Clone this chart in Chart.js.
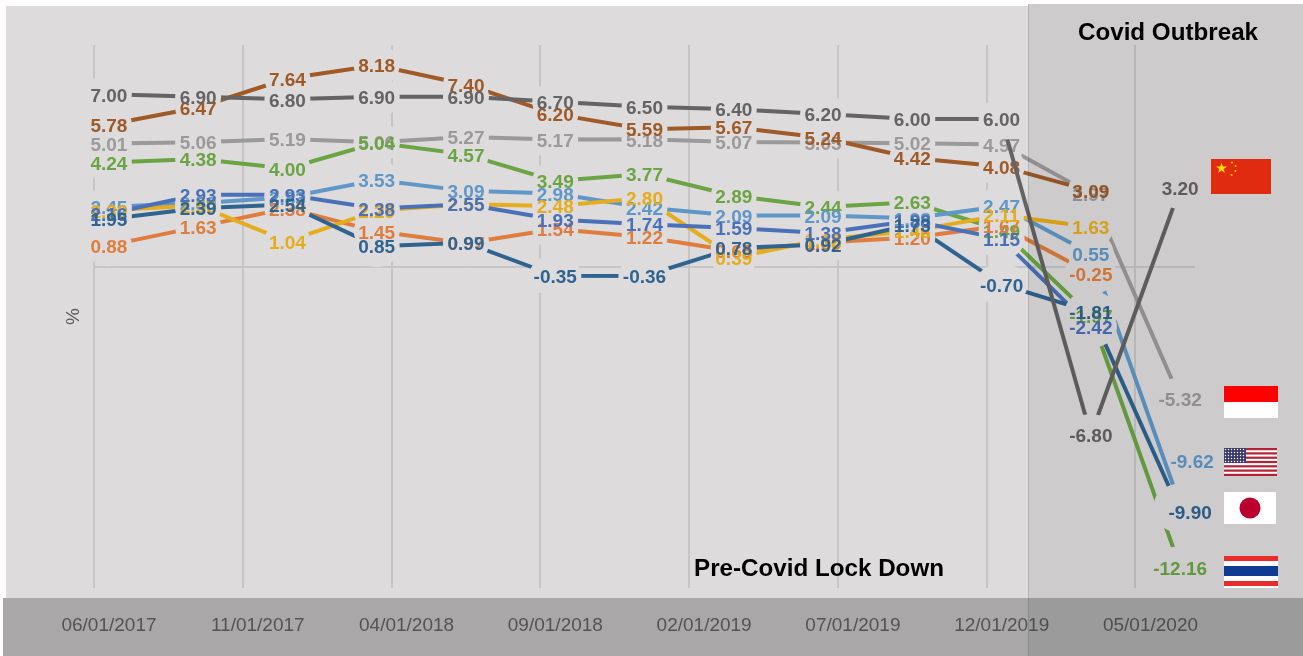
<!DOCTYPE html>
<html>
<head>
<meta charset="utf-8">
<title>Covid Outbreak</title>
<script src="https://cdn.jsdelivr.net/npm/chart.js@4/dist/chart.umd.min.js"></script>
<style>
  html, body { margin: 0; padding: 0; background: #fff; }
  body { position: relative; width: 1303px; height: 656px; overflow: hidden; font-family: 'Liberation Sans', Arial, sans-serif; }
  .box { position: absolute; }
  #plate { left: 6px; top: 6px; right: 0; bottom: 0; background: #dddbdc; }
  #plateTop { left: 1028px; top: 4px; right: 0; height: 2px; background: #dddbdc; }
  #plateBand { left: 3px; top: 598px; width: 3px; bottom: 0; background: #dddbdc; }
  canvas { position: absolute; left: 0; top: 0; }
  #outbreak { left: 1028px; top: 4px; right: 0; bottom: 0; background: rgba(0, 0, 0, 0.072); border-left: 1px solid rgba(0, 0, 0, 0.12); }
  #band { left: 3px; top: 598px; right: 0; bottom: 0; background: rgba(0, 0, 0, 0.235); }
  .note { position: absolute; font-weight: bold; font-size: 24.2px; color: #000; white-space: nowrap; transform: translate(-50%, -50%); }
  svg { position: absolute; display: block; }
</style>
</head>
<body>
<div class="box" id="plate"></div>
<div class="box" id="plateTop"></div>
<div class="box" id="plateBand"></div>
<canvas id="myChart" width="1303" height="656"></canvas>
<div class="box" id="outbreak"></div>
<div class="box" id="band"></div>
<div class="note" style="left:1168px;top:32px">Covid Outbreak</div>
<div class="note" style="left:819px;top:568px">Pre-Covid Lock Down</div>

<svg style="left:1211px;top:159px" width="60" height="35" viewBox="0 0 60 35">
  <rect width="60" height="35" fill="#e02b10" />
  <polygon points="10.5,3.5 11.8,7.4 16,7.5 12.7,10 13.9,14 10.5,11.6 7.1,14 8.3,10 5,7.5 9.2,7.4" fill="#ffde00" />
  <circle cx="21" cy="3.5" r="1" fill="#ffde00" />
  <circle cx="24.5" cy="7" r="1" fill="#ffde00" />
  <circle cx="24.5" cy="12" r="1" fill="#ffde00" />
  <circle cx="20.5" cy="16" r="1" fill="#ffde00" />
</svg>
<svg style="left:1224px;top:386px" width="54" height="32" viewBox="0 0 54 32">
  <rect width="54" height="16" fill="#ff0000" />
  <rect y="16" width="54" height="16" fill="#fff" />
</svg>
<svg style="left:1224px;top:448px" width="53" height="28" viewBox="0 0 53 28">
  <defs>
    <pattern id="stars" width="3" height="3" patternUnits="userSpaceOnUse">
      <circle cx="1.5" cy="1.5" r="0.7" fill="#fff" />
    </pattern>
  </defs>
  <rect width="53" height="28" fill="#fff" />
  <rect y="0" width="53" height="2.2" fill="#b22234" />
  <rect y="4.3" width="53" height="2.2" fill="#b22234" />
  <rect y="8.6" width="53" height="2.2" fill="#b22234" />
  <rect y="12.9" width="53" height="2.2" fill="#b22234" />
  <rect y="17.2" width="53" height="2.2" fill="#b22234" />
  <rect y="21.5" width="53" height="2.2" fill="#b22234" />
  <rect y="25.8" width="53" height="2.2" fill="#b22234" />
  <rect width="22" height="15" fill="#3c3b6e" />
  <rect width="22" height="15" fill="url(#stars)" />
</svg>
<svg style="left:1224px;top:492px" width="52" height="32" viewBox="0 0 52 32">
  <rect width="52" height="32" fill="#fff" />
  <circle cx="26" cy="16" r="10.5" fill="#bc002d" />
</svg>
<svg style="left:1224px;top:556px" width="54" height="32" viewBox="0 0 54 32">
  <rect width="54" height="32" fill="#fff" />
  <rect width="54" height="5" fill="#ea2b2b" />
  <rect y="10" width="54" height="10" fill="#0f3b92" />
  <rect y="25" width="54" height="5" fill="#ea2b2b" />
</svg>

<script>
const categories = ['06/01/2017', '09/01/2017', '12/01/2017', '03/01/2018', '06/01/2018', '09/01/2018', '12/01/2018', '03/01/2019', '06/01/2019', '09/01/2019', '12/01/2019', '03/01/2020', '06/01/2020']
const tickLabels = ['06/01/2017', '11/01/2017', '04/01/2018', '09/01/2018', '02/01/2019', '07/01/2019', '12/01/2019', '05/01/2020']

const china = [7.0, 6.9, 6.8, 6.9, 6.9, 6.7, 6.5, 6.4, 6.2, 6.0, 6.0, -6.8, 3.2]
const japan = [1.95, 2.39, 2.54, 0.85, 0.99, -0.35, -0.36, 0.78, 0.92, 1.73, -0.7, -1.81, -9.9]
const brown = [5.78, 6.47, 7.64, 8.18, 7.4, 6.2, 5.59, 5.67, 5.24, 4.42, 4.08, 3.09, null]
const blue = [2.16, 2.93, 2.93, 2.38, 2.55, 1.93, 1.74, 1.59, 1.38, 1.88, 1.15, -2.42, null]
const yellow = [2.3, 2.5, 1.04, 2.29, 2.55, 2.48, 2.8, 0.39, 1.12, 1.46, 2.11, 1.63, null]
const orange = [0.88, 1.63, 2.38, 1.45, 0.97, 1.54, 1.22, 0.65, 1.0, 1.2, 1.67, -0.25, null]
const usa = [2.45, 2.59, 2.83, 3.53, 3.09, 2.98, 2.42, 2.09, 2.09, 1.98, 2.47, 0.55, -9.62]
const thailand = [4.24, 4.38, 4.0, 5.04, 4.57, 3.49, 3.77, 2.89, 2.44, 2.63, 1.49, -1.97, -12.16]
const indonesia = [5.01, 5.06, 5.19, 5.06, 5.27, 5.17, 5.18, 5.07, 5.05, 5.02, 4.97, 2.97, -5.32]

const PLATE = '#dddbdc'
const LABEL_FONT = 'bold 19px "Liberation Sans", Arial, sans-serif'
// the last two labels were dragged off their points, the halo stays behind
const movedLabels = { '-9.62': [12, -44], '-9.90': [10, 0] }

function monthIndex(label) {
  const [mm, , yyyy] = label.split('/').map(Number)
  return (yyyy - 2017) * 12 + mm - 6
}

function series(name, values, color) {
  return {
    label: name,
    data: values.map((y, i) => ({ x: monthIndex(categories[i]), y })),
    borderColor: color,
    borderWidth: 4,
    pointRadius: 0,
    tension: 0,
    fill: false,
    spanGaps: false,
  }
}

// dataset 0 is painted last by chart.js, the china line sits above the label halos of the others
const datasets = [
  series('China', china, '#646464'),
  series('Japan', japan, '#2f6491'),
  series('Brown', brown, '#9f5a28'),
  series('Blue', blue, '#4a70b8'),
  series('Yellow', yellow, '#e5ad1c'),
  series('Orange', orange, '#df7d3e'),
  series('USA', usa, '#5f97c8'),
  series('Thailand', thailand, '#6aa443'),
  series('Indonesia', indonesia, '#9a9a9a'),
]

function labelsOf(chart, index) {
  const { ctx } = chart
  const meta = chart.getDatasetMeta(index)
  const out = []
  chart.data.datasets[index].data.forEach((d, i) => {
    if (d.y === null) return
    const text = d.y.toFixed(2)
    const pt = meta.data[i]
    out.push({ text, x: pt.x, y: pt.y, rx: ctx.measureText(text).width / 2 + 4.5, ry: 21 })
  })
  return out
}

function drawTexts(chart, index) {
  const { ctx } = chart
  ctx.fillStyle = chart.data.datasets[index].borderColor
  labelsOf(chart, index).forEach((l) => {
    const [dx, dy] = movedLabels[l.text] || [0, 0]
    ctx.fillText(l.text, l.x + dx, l.y + dy + 2)
  })
}

const labelPlugin = {
  id: 'haloLabels',
  beforeDatasetDraw(chart, args) {
    if (args.index !== 0) return
    const { ctx, width, height } = chart
    ctx.font = LABEL_FONT
    ctx.textAlign = 'center'
    ctx.textBaseline = 'middle'
    ctx.fillStyle = PLATE
    for (let i = datasets.length - 1; i >= 0; i--) {
      labelsOf(chart, i).forEach((l) => {
        ctx.beginPath()
        ctx.ellipse(l.x, l.y, l.rx, l.ry, 0, 0, Math.PI * 2)
        ctx.fill()
      })
    }
    for (let i = datasets.length - 1; i > 0; i--) {
      drawTexts(chart, i)
    }
    // keep the china line off its own labels
    ctx.save()
    ctx.beginPath()
    ctx.rect(0, 0, width, height)
    labelsOf(chart, 0).forEach((l) => {
      ctx.moveTo(l.x + l.rx, l.y)
      ctx.ellipse(l.x, l.y, l.rx, l.ry, 0, 0, Math.PI * 2)
    })
    ctx.clip('evenodd')
  },
  afterDatasetDraw(chart, args) {
    if (args.index !== 0) return
    const { ctx } = chart
    ctx.restore()
    ctx.font = LABEL_FONT
    ctx.textAlign = 'center'
    ctx.textBaseline = 'middle'
    drawTexts(chart, 0)
  },
}

const element = document.getElementById('myChart')
const myChart = new Chart(element.getContext('2d'), {
  type: 'line',
  data: { datasets },
  plugins: [labelPlugin],
  options: {
    responsive: false,
    animation: false,
    layout: { padding: { left: 58, right: 108, top: 45, bottom: 0 } },
    plugins: { legend: { display: false }, tooltip: { enabled: false } },
    scales: {
      x: {
        type: 'linear',
        min: -0.5,
        max: 36.5,
        afterBuildTicks(scale) {
          scale.ticks = tickLabels.map((t) => ({ value: monthIndex(t) - 0.5 }))
        },
        afterFit(scale) {
          scale.height = 68
        },
        border: { display: false },
        grid: { color: '#c6c5c5', lineWidth: 2, drawTicks: false },
        ticks: {
          autoSkip: false,
          maxRotation: 0,
          padding: 26,
          labelOffset: 15,
          color: '#6e6e6e',
          font: { family: '"Liberation Sans", Arial, sans-serif', size: 19 },
          callback: (value, index) => tickLabels[index],
        },
      },
      y: {
        min: -13,
        max: 9,
        afterFit(scale) {
          scale.width = 36
        },
        border: { display: false },
        grid: {
          drawTicks: false,
          lineWidth: 2,
          color: (c) => (c.tick.value === 0 ? '#c6c5c5' : 'rgba(0,0,0,0)'),
        },
        ticks: { display: false, stepSize: 1 },
        title: {
          display: true,
          text: '%',
          color: '#5c5c5c',
          font: { family: '"Liberation Sans", Arial, sans-serif', size: 19 },
        },
      },
    },
  },
})
</script>
</body>
</html>
